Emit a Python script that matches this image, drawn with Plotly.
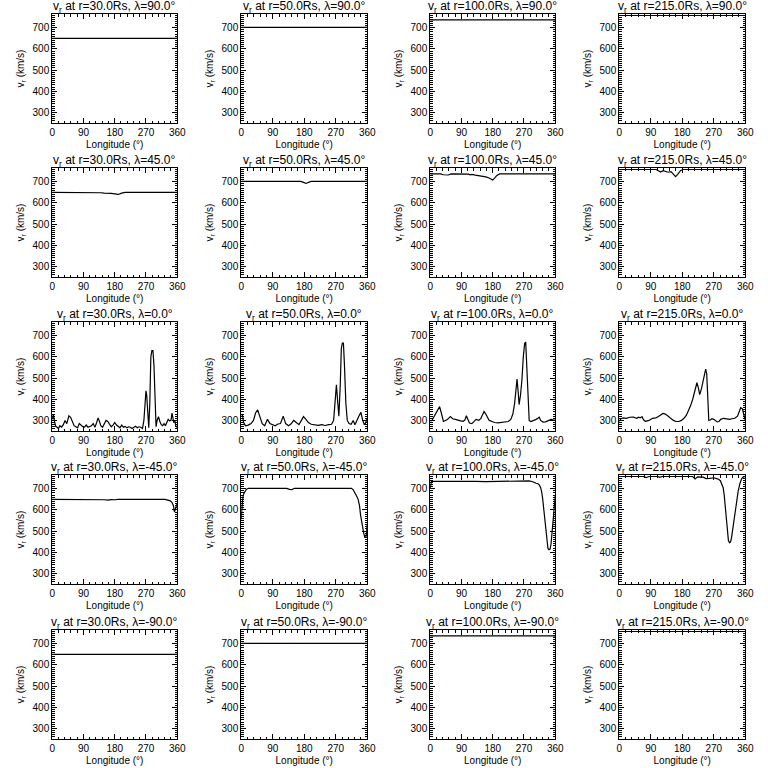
import plotly.graph_objects as go

# ---------------- data ----------------
radii = ["30.0", "50.0", "100.0", "215.0"]
lats = ["90.0", "45.0", "0.0", "-45.0", "-90.0"]
x_ticks = [0, 90, 180, 270, 360]
y_ticks = [300, 400, 500, 600, 700]

# poles (lat +/-90): flat profiles
lon_flat = [0, 360]
v_pole_30 = [650, 650]
v_pole_50 = [702, 702]
v_pole_100 = [737, 737]
v_pole_215 = [758, 758]

# lat +45
lon_n45_30 = [0, 130, 140, 150, 160, 170, 180, 190, 200, 210, 360]
v_n45_30 = [650, 650, 648, 646, 647, 645, 643, 640, 646, 650, 650]
lon_n45_50 = [0, 170, 178, 185, 192, 200, 360]
v_n45_50 = [702, 702, 697, 692, 697, 702, 702]
lon_n45_100 = [0, 30, 38, 45, 52, 60, 100, 110, 115, 120, 130, 140, 150, 160, 168, 175, 180, 186, 192, 200, 360]
v_n45_100 = [737, 737, 733, 731, 732, 737, 737, 736, 733, 735, 731, 729, 726, 723, 719, 712, 708, 718, 730, 737, 737]
lon_n45_215 = [0, 105, 112, 118, 125, 132, 140, 148, 155, 161, 167, 175, 182, 360]
v_n45_215 = [758, 758, 752, 746, 752, 749, 745, 748, 735, 724, 735, 752, 758, 758]

# lat 0
lon_eq_30 = [0, 3, 6, 10, 14, 18, 22, 27, 32, 37, 42, 48, 53, 58, 63, 68, 73, 78, 83, 88, 93, 98,
             103, 108, 113, 118, 123, 128, 132, 136, 140, 145, 150, 155, 160, 165, 170, 175, 180,
             185, 190, 195, 200, 205, 210, 215, 220, 225, 230, 235, 240, 245, 250, 255, 260, 264,
             267, 270, 272, 275, 278, 281, 284, 287, 290, 293, 296, 299, 302, 306, 310, 314, 318,
             322, 326, 330, 334, 338, 342, 345, 347, 350, 353, 356, 360]
v_eq_30 = [305, 330, 300, 272, 268, 262, 275, 268, 280, 300, 285, 322, 315, 290, 275, 270, 265, 285,
           278, 270, 268, 278, 268, 270, 275, 285, 268, 290, 312, 295, 275, 268, 285, 300, 295, 285,
           270, 278, 290, 278, 270, 265, 278, 268, 272, 265, 270, 268, 262, 268, 272, 265, 270, 268,
           262, 300, 380, 440, 420, 330, 265, 380, 600, 630, 630, 560, 380, 270, 300, 318, 295, 280,
           275, 285, 275, 295, 305, 298, 300, 335, 320, 290, 300, 272, 268]
lon_eq_50 = [0, 3, 7, 12, 20, 28, 35, 41, 47, 53, 60, 67, 75, 82, 90, 97, 105, 112, 120, 127, 135,
             142, 150, 157, 165, 172, 178, 185, 192, 200, 210, 220, 230, 240, 250, 258, 264, 268,
             272, 276, 279, 283, 286, 289, 292, 295, 299, 303, 308, 314, 320, 325, 330, 336, 342,
             347, 352, 356, 360]
v_eq_50 = [325, 330, 290, 275, 278, 285, 300, 335, 350, 320, 285, 275, 305, 285, 278, 275, 283, 285,
           320, 285, 275, 283, 300, 290, 280, 300, 318, 305, 290, 282, 280, 277, 280, 276, 280, 282,
           300, 400, 468, 380, 320, 470, 640, 665, 665, 560, 380, 300, 285, 282, 300, 280, 300, 320,
           338, 300, 280, 290, 312]
lon_eq_100 = [0, 5, 10, 15, 20, 27, 32, 38, 44, 50, 58, 65, 72, 80, 88, 95, 100, 104, 108, 113, 120,
              126, 132, 140, 146, 150, 155, 160, 165, 170, 178, 185, 195, 205, 215, 225, 232, 238,
              243, 247, 250, 253, 256, 260, 264, 268, 272, 275, 278, 281, 285, 290, 295, 300, 305,
              310, 314, 318, 325, 332, 340, 348, 355, 360]
v_eq_100 = [298, 300, 315, 330, 350, 365, 335, 295, 300, 305, 318, 308, 305, 300, 298, 296, 302, 322,
            305, 288, 285, 295, 305, 300, 310, 325, 342, 330, 315, 300, 295, 290, 288, 290, 292, 295,
            305, 330, 380, 450, 495, 440, 375, 420, 490, 600, 665, 668, 560, 410, 300, 295, 298, 300,
            305, 310, 315, 300, 292, 293, 300, 305, 302, 300]
lon_eq_215 = [0, 5, 12, 20, 30, 40, 50, 55, 60, 65, 70, 75, 80, 85, 95, 105, 112, 118, 125, 132, 140,
              148, 155, 162, 170, 178, 185, 192, 198, 204, 210, 216, 222, 226, 230, 235, 240, 244,
              247, 250, 253, 256, 260, 265, 270, 275, 280, 285, 290, 298, 305, 315, 322, 330, 338,
              343, 347, 352, 356, 360]
v_eq_215 = [295, 308, 312, 310, 315, 316, 310, 315, 312, 318, 302, 296, 298, 300, 310, 312, 318, 325,
            333, 330, 318, 310, 300, 295, 295, 300, 310, 325, 345, 370, 400, 440, 478, 455, 422, 450,
            490, 525, 542, 520, 400, 300, 302, 308, 305, 300, 293, 295, 305, 310, 308, 305, 308, 310,
            320, 340, 360, 355, 330, 300]

# lat -45
lon_s45_30 = [0, 130, 140, 150, 160, 170, 180, 190, 325, 333, 340, 345, 349, 352, 355, 358, 360]
v_s45_30 = [650, 650, 647, 648, 646, 649, 648, 650, 650, 648, 643, 635, 620, 590, 605, 622, 632]
lon_s45_50 = [0, 2, 4, 7, 10, 14, 20, 130, 138, 145, 152, 315, 320, 325, 330, 334, 338, 341, 344,
              347, 350, 353, 356, 358, 360]
v_s45_50 = [556, 620, 650, 676, 688, 696, 702, 702, 697, 696, 702, 702, 695, 682, 665, 650, 620, 575,
            540, 515, 490, 470, 470, 490, 535]
lon_s45_100 = [0, 1, 3, 6, 60, 70, 80, 130, 160, 200, 225, 232, 240, 275, 285, 295, 300, 305, 310,
               314, 318, 321, 324, 327, 330, 333, 336, 339, 342, 345, 348, 351, 354, 357, 360]
v_s45_100 = [700, 720, 733, 735, 735, 738, 737, 735, 734, 735, 736, 739, 736, 738, 737, 733, 728,
             726, 724, 718, 705, 685, 650, 600, 545, 490, 445, 418, 412, 415, 440, 490, 540, 600,
             665]
lon_s45_215 = [0, 70, 77, 85, 110, 116, 122, 210, 217, 224, 240, 248, 258, 270, 278, 284, 289, 293,
               297, 300, 303, 306, 309, 312, 315, 318, 321, 325, 330, 335, 340, 345, 350, 355, 360]
v_s45_215 = [758, 758, 753, 758, 758, 754, 758, 758, 746, 756, 755, 748, 749, 752, 748, 745, 738,
             725, 705, 670, 620, 560, 500, 455, 445, 448, 470, 520, 580, 640, 690, 725, 748, 756,
             758]

panels = [
    [(lon_flat, v_pole_30), (lon_flat, v_pole_50), (lon_flat, v_pole_100), (lon_flat, v_pole_215)],
    [(lon_n45_30, v_n45_30), (lon_n45_50, v_n45_50), (lon_n45_100, v_n45_100), (lon_n45_215, v_n45_215)],
    [(lon_eq_30, v_eq_30), (lon_eq_50, v_eq_50), (lon_eq_100, v_eq_100), (lon_eq_215, v_eq_215)],
    [(lon_s45_30, v_s45_30), (lon_s45_50, v_s45_50), (lon_s45_100, v_s45_100), (lon_s45_215, v_s45_215)],
    [(lon_flat, v_pole_30), (lon_flat, v_pole_50), (lon_flat, v_pole_100), (lon_flat, v_pole_215)],
]

# ---------------- layout ----------------
W = H = 768
col_px = [(50, 177), (242, 370), (434, 561), (626, 754)]
row_px = [(14, 123), (168, 277), (322, 431), (475, 584), (630, 739)]

FONT = "Liberation Sans"
fig = go.Figure()
annotations = []
layout = {}
k = 0
for r, lat in enumerate(lats):
    for c, rad in enumerate(radii):
        k += 1
        xs, ys = panels[r][c]
        sfx = "" if k == 1 else str(k)
        fig.add_trace(go.Scatter(x=xs, y=ys, mode="lines",
                                 line=dict(color="black", width=1.2),
                                 xaxis="x" + sfx, yaxis="y" + sfx,
                                 showlegend=False, hoverinfo="skip"))
        x0, x1 = col_px[c]
        t0, t1 = row_px[r]
        layout["xaxis" + sfx] = dict(
            domain=[x0 / W, x1 / W], anchor="y" + sfx, range=[0, 360],
            tickvals=x_ticks, ticks="inside", ticklen=5, tickcolor="black",
            showline=True, linecolor="black", linewidth=1, mirror="allticks",
            showgrid=False, zeroline=False,
            minor=dict(ticks="inside", ticklen=2.5, dtick=18, tickcolor="black"),
            tickfont=dict(family=FONT, size=10, color="black"),
            title=dict(text="Longitude (°)", standoff=3,
                       font=dict(family=FONT, size=10, color="black")),
        )
        layout["yaxis" + sfx] = dict(
            domain=[1 - t1 / H, 1 - t0 / H], anchor="x" + sfx, range=[250, 765],
            tickvals=y_ticks, ticks="inside", ticklen=5, tickcolor="black",
            showline=True, linecolor="black", linewidth=1, mirror="allticks",
            showgrid=False, zeroline=False,
            minor=dict(ticks="inside", ticklen=2.5, dtick=10, tickcolor="black"),
            tickfont=dict(family=FONT, size=10, color="black"),
            title=dict(text="v<sub>r</sub> (km/s)", standoff=6,
                       font=dict(family=FONT, size=10, color="black")),
        )
        annotations.append(dict(
            text=f"v<sub>r</sub> at r={rad}Rs, λ={lat}°",
            x=(x0 + x1) / 2 / W, y=1 - (t0 + 2) / H, xref="paper", yref="paper",
            xanchor="center", yanchor="bottom", showarrow=False, borderpad=0,
            font=dict(family=FONT, size=12, color="black")))

fig.update_layout(
    width=W, height=H, autosize=False, margin=dict(l=0, r=0, t=0, b=0),
    paper_bgcolor="white", plot_bgcolor="white",
    annotations=annotations, **layout)

# remove the default page margin and scrollbars so the figure fills the window
fig.write_html(
    "out.html",
    config={"responsive": False, "displayModeBar": False, "staticPlot": True},
    post_script=("document.documentElement.style.margin='0px';"
                 "document.documentElement.style.overflow='hidden';"
                 "document.body.style.margin='0px';"
                 "document.body.style.overflow='hidden';"),
)
